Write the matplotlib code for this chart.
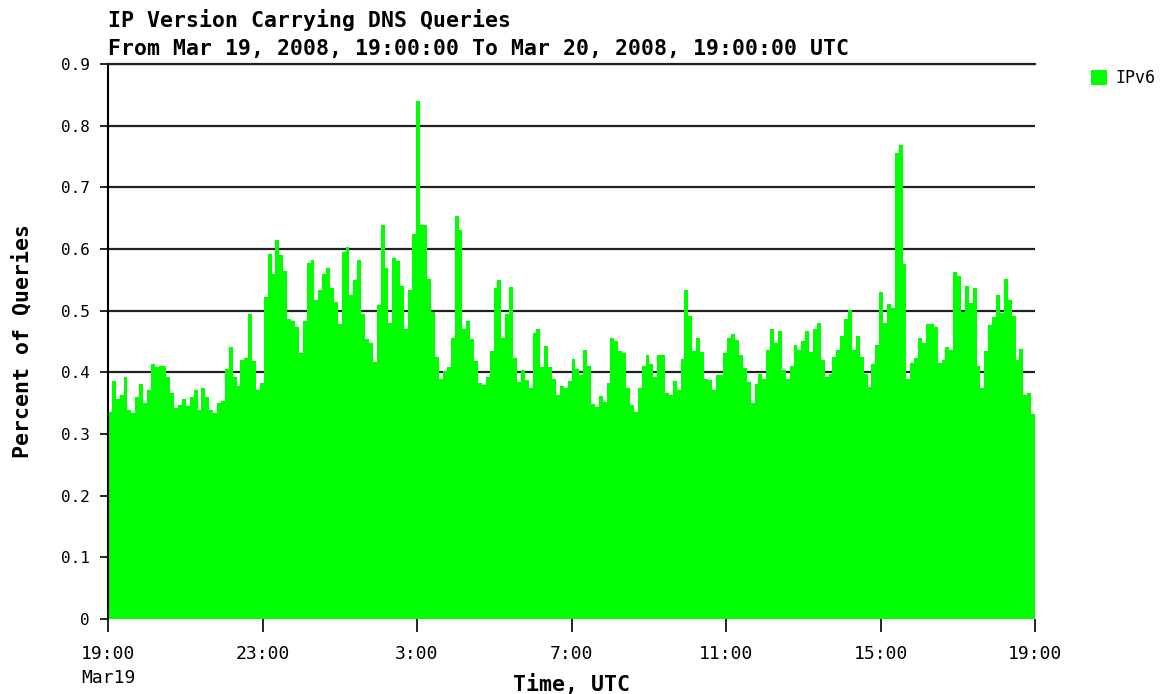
import matplotlib
matplotlib.use('Agg')
import matplotlib.pyplot as plt
import numpy as np

# IPv6 share of DNS queries, one bar per interval from Mar 19 19:00 to Mar 20 19:00 UTC
ipv6 = [
    # 19:00 - ~23:00
    0.336, 0.386, 0.357, 0.363, 0.393, 0.339, 0.334, 0.360, 0.381, 0.350,
    0.371, 0.413, 0.409, 0.411, 0.411, 0.393, 0.366, 0.342, 0.347, 0.356,
    0.345, 0.360, 0.371, 0.339, 0.375, 0.360, 0.339, 0.334, 0.350, 0.354,
    0.405, 0.441, 0.393, 0.378, 0.420, 0.423, 0.494, 0.419, 0.371, 0.383,
    # ~23:00 - ~3:00
    0.522, 0.592, 0.559, 0.615, 0.591, 0.564, 0.486, 0.483, 0.474, 0.432,
    0.483, 0.578, 0.582, 0.517, 0.533, 0.560, 0.570, 0.536, 0.514, 0.478,
    0.595, 0.603, 0.525, 0.550, 0.582, 0.494, 0.454, 0.447, 0.417, 0.509,
    0.639, 0.570, 0.480, 0.585, 0.581, 0.540, 0.471, 0.533, 0.624,
    # ~3:00 - ~7:00
    0.840, 0.639, 0.639, 0.551, 0.498, 0.425, 0.390, 0.402, 0.408, 0.456,
    0.654, 0.630, 0.471, 0.483, 0.454, 0.419, 0.383, 0.379, 0.393, 0.435,
    0.537, 0.549, 0.455, 0.495, 0.539, 0.423, 0.384, 0.404, 0.388, 0.375,
    0.464, 0.470, 0.408, 0.443, 0.408, 0.389, 0.363, 0.378, 0.375, 0.386,
    # ~7:00 - ~11:00
    0.422, 0.405, 0.396, 0.437, 0.410, 0.348, 0.343, 0.362, 0.352, 0.383,
    0.456, 0.451, 0.435, 0.432, 0.375, 0.347, 0.336, 0.375, 0.410, 0.428,
    0.413, 0.393, 0.428, 0.428, 0.366, 0.363, 0.386, 0.371, 0.422, 0.533,
    0.491, 0.435, 0.455, 0.433, 0.390, 0.388, 0.372, 0.396, 0.396,
    # ~11:00 - ~15:00
    0.432, 0.456, 0.462, 0.452, 0.428, 0.407, 0.384, 0.351, 0.381, 0.398,
    0.390, 0.437, 0.471, 0.447, 0.467, 0.404, 0.390, 0.410, 0.444, 0.436,
    0.451, 0.467, 0.433, 0.471, 0.480, 0.420, 0.392, 0.397, 0.425, 0.437,
    0.459, 0.486, 0.501, 0.437, 0.459, 0.425, 0.398, 0.376, 0.413, 0.444,
    0.531,
    # ~15:00 - 19:00
    0.480, 0.510, 0.504, 0.756, 0.768, 0.576, 0.390, 0.415, 0.423, 0.455,
    0.447, 0.479, 0.478, 0.474, 0.415, 0.420, 0.441, 0.436, 0.563, 0.557,
    0.498, 0.540, 0.512, 0.536, 0.410, 0.374, 0.435, 0.477, 0.489, 0.525,
    0.496, 0.551, 0.518, 0.491, 0.420, 0.438, 0.364, 0.366, 0.332,
]

tick_hours = [0, 4, 8, 12, 16, 20, 24]
tick_labels = ['19:00\nMar19', '23:00', '3:00', '7:00', '11:00', '15:00', '19:00']
y_ticks = [0, 0.1, 0.2, 0.3, 0.4, 0.5, 0.6, 0.7, 0.8, 0.9]
y_labels = ['0', '0.1', '0.2', '0.3', '0.4', '0.5', '0.6', '0.7', '0.8', '0.9']

mono = 'DejaVu Sans Mono'

fig = plt.figure(figsize=(11.73, 6.94), dpi=100)
ax = fig.add_axes([108 / 1173, 1 - 619 / 694, 927 / 1173, 555 / 694])

n = len(ipv6)
w = 24.0 / n
x = np.arange(n) * w
ax.bar(x, ipv6, width=w, align='edge', color='#00ff00', linewidth=0,
       zorder=2, label='IPv6')

ax.set_xlim(0, 24)
ax.set_ylim(0, 0.9)
ax.set_xticks(tick_hours)
ax.set_xticklabels(tick_labels, fontfamily=mono, fontsize=13, linespacing=1.45)
ax.set_yticks(y_ticks)
ax.set_yticklabels(y_labels, fontfamily=mono, fontsize=11.5)

ax.yaxis.grid(True, color='#222222', linewidth=1.6, zorder=1)
ax.set_axisbelow(True)

for s in ['right', 'bottom']:
    ax.spines[s].set_visible(False)
ax.spines['top'].set_color('#222222')
ax.spines['top'].set_linewidth(1.6)
ax.spines['left'].set_color('black')
ax.spines['left'].set_linewidth(1.5)

ax.tick_params(axis='x', direction='out', length=9.5, width=1.2, pad=9)
ax.tick_params(axis='y', direction='out', length=6, width=1.2, pad=7)

ax.set_xlabel('Time, UTC', fontfamily=mono, fontweight='bold', fontsize=15.5)
ax.xaxis.set_label_coords(0.5, -0.1)
ax.set_ylabel('Percent of Queries', fontfamily=mono, fontweight='bold', fontsize=15.5)
ax.yaxis.set_label_coords(-0.082, 0.5)

fig.text(108 / 1173, 1 - 27 / 694, 'IP Version Carrying DNS Queries',
         fontfamily=mono, fontweight='bold', fontsize=15.5)
fig.text(108 / 1173, 1 - 55 / 694,
         'From Mar 19, 2008, 19:00:00 To Mar 20, 2008, 19:00:00 UTC',
         fontfamily=mono, fontweight='bold', fontsize=15.5)

leg = ax.legend(loc='upper left', bbox_to_anchor=(1.044, 1.018), frameon=False,
                handlelength=1.0, handleheight=1.0, handletextpad=0.45,
                prop={'family': mono, 'size': 12})

fig.savefig('out.png', dpi=100)
